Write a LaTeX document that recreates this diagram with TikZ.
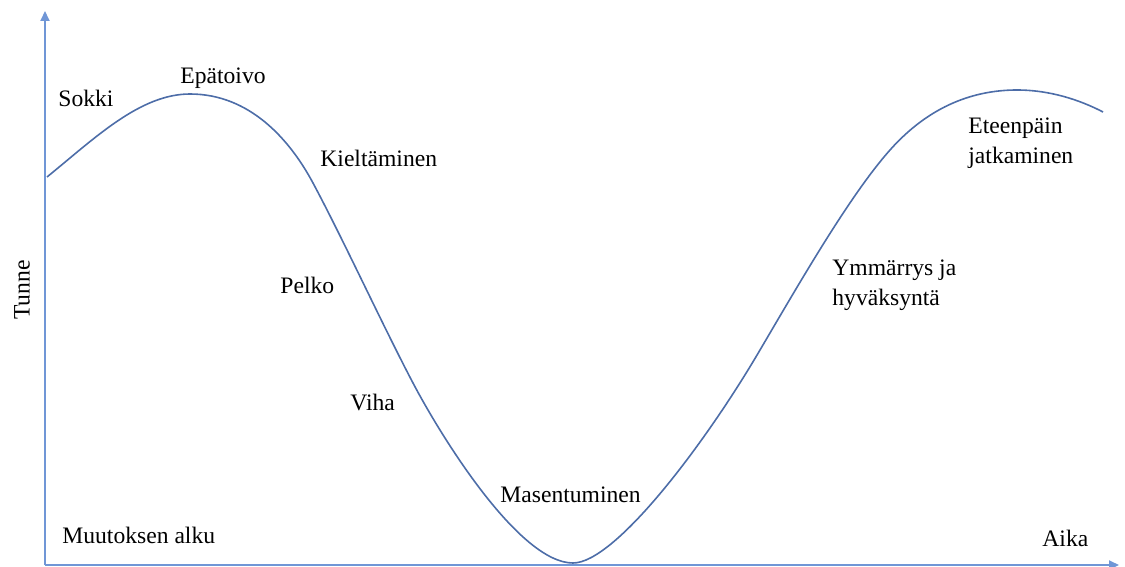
\documentclass[tikz,border=0pt]{standalone}
\usepackage{fontspec}
\setmainfont{Liberation Serif}
\usetikzlibrary{arrows.meta, positioning}
\definecolor{akselivari}{HTML}{7096D6}
\definecolor{kayravari}{HTML}{4D6DA8}

\begin{document}
\begin{tikzpicture}[
    x=0.5pt, y=-0.5pt,
    node distance = 1mm and 1mm,
    teksti/.style = {anchor=west, inner sep=0pt, align=left, font=\fontsize{11.8}{15}\selectfont},
    akseli/.style = {akselivari, line width=1pt, -{Triangle[length=5pt, width=4.5pt]}},
    kayra/.style = {kayravari, line width=0.8pt},
    ]

  \useasboundingbox (0,0) rectangle (1125,567);

  \coordinate (origo) at (45,565) ;
  \coordinate (ylos) at (45,11) ;
  \coordinate (oikea) at (1119,565) ;

  \draw[akseli] (origo) -- (ylos) ;
  \draw[akseli] (origo) -- (oikea) ;

  \node[rotate=90, font=\fontsize{11.8}{14}\selectfont] (tunne) at (22,290) {Tunne} ;
  \node[teksti] (aika) at (1042,538) {Aika} ;
  \node[teksti] (alku) at (62,535) {Muutoksen alku} ;

  \node[teksti] (sokki) at (58,98) {Sokki} ;
  \node[teksti] (epatoivo) at (180,78) {Epätoivo} ;
  \node[teksti] (kielto) at (320,158) {Kieltäminen} ;
  \node[teksti] (pelko) at (280,285) {Pelko} ;
  \node[teksti] (viha) at (350,402) {Viha} ;
  \node[teksti] (masennus) at (500,495) {Masentuminen} ;
  \node[teksti] (ymmarrys) at (832,285) {Ymmärrys ja\\hyväksyntä} ;
  \node[teksti] (eteenpain) at (968,143) {Eteenpäin\\jatkaminen} ;

  % tunnekayra
  \draw[kayra] (47,177)
    .. controls (95,138) and (140,94) .. (190,94)
    .. controls (250,94) and (290,140) .. (313,183)
    .. controls (343,239) and (383,326) .. (413,383)
    .. controls (443,440) and (520,563) .. (573,563)
    .. controls (615,563) and (705,444) .. (760,350)
    .. controls (800,282) and (850,195) .. (890,150)
    .. controls (930,105) and (975,90) .. (1017,90)
    .. controls (1050,90) and (1080,100) .. (1103,112) ;

\end{tikzpicture}
\end{document}
